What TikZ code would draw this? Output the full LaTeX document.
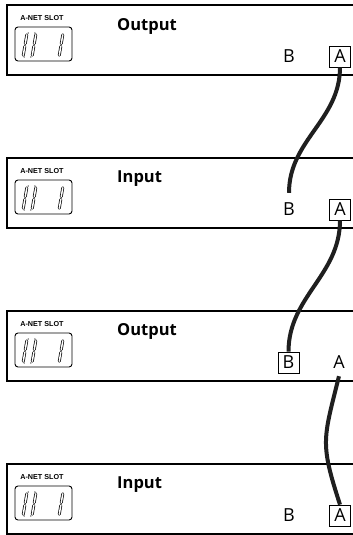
\documentclass[tikz,border=0pt]{standalone}
\usepackage{fontspec}
\setmainfont{Open Sans}
\newfontfamily\slotfont{Liberation Sans}
\usetikzlibrary{positioning}

\begin{document}
\begin{tikzpicture}[
  x=1pt, y=1pt,
  every node/.style={font=\fontsize{18}{20}\selectfont},
  frame/.style={draw=black, line width=2pt},
  display/.style={draw=black, line width=0.9pt, rounded corners=3pt},
  seg/.style={draw=black, line width=0.7pt, double=white, double distance=1.5pt, line cap=round},
  slot/.style={font=\slotfont\bfseries\fontsize{7.2}{8}\selectfont, inner sep=0pt},
  title/.style={font=\bfseries\fontsize{16.5}{18}\selectfont, anchor=base west, inner sep=0pt},
  port/.style={inner sep=0pt, minimum size=21pt},
  plug/.style={port, draw=black, line width=0.7pt},
  cable/.style={draw=black!88, line width=4pt}
]
\useasboundingbox (0,0) rectangle (353,-535);

% === FOUR UNITS (frame, slot label, display) ===
\foreach \t in {5,158,311,464} {
  \draw[frame] (353,-\t) -- (7,-\t) -- (7,-\t-70) -- (353,-\t-70);
  \node[slot] at (42,-\t-13) {A-NET SLOT};
  \draw[display] (15,-\t-22) rectangle (72,-\t-56);
  \begin{scope}[shift={(23,-\t-52)}, xslant=0.17]
    % digit 0
    \draw[seg] (1.9,24) -- (7.1,24);
    \draw[seg] (0,22.2) -- (0,13.4);
    \draw[seg] (9,22.2) -- (9,13.4);
    \draw[seg] (0,10.6) -- (0,1.8);
    \draw[seg] (9,10.6) -- (9,1.8);
    \draw[seg] (1.9,0) -- (7.1,0);
    % digit 1
    \draw[seg] (36,22.2) -- (36,13.4);
    \draw[seg] (36,10.6) -- (36,1.8);
  \end{scope}
}

% Titles
\node[title] (t1) at (117,-31)  {Output};
\node[title] (t2) at (117,-182) {Input};
\node[title] (t3) at (117,-335) {Output};
\node[title] (t4) at (117,-488) {Input};

% === PORTS (B, A) ===
\node[port] (b1) at (289,-56.5)  {B};
\node[plug] (a1) at (340,-56.5)  {A};
\node[port] (b2) at (289,-209.5) {B};
\node[plug] (a2) at (340,-209.5) {A};
\node[plug] (b3) at (288.5,-362.5) {B};
\node[port] (a3) at (339,-362.5) {A};
\node[port] (b4) at (289,-515.5) {B};
\node[plug] (a4) at (340,-515.5) {A};

% === CABLES ===
\draw[cable] (a1.south) to[out=-90,in=90] ([yshift=6pt]b2.north);
\draw[cable] (a2.south) to[out=-90,in=90] (b3.north);
\draw[cable] ([yshift=-3pt]a3.south) to[out=-104,in=108,looseness=1.3] (a4.north);

\end{tikzpicture}
\end{document}
